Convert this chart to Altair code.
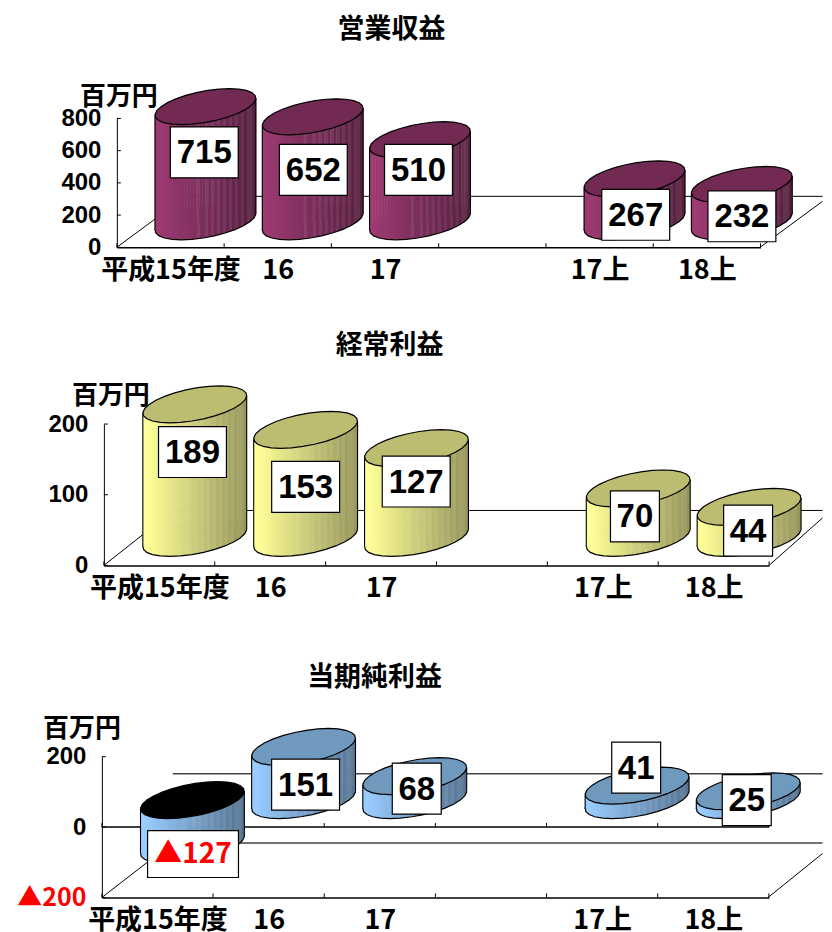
import math
import altair as alt
import pandas as pd

# ---- data -----------------------------------------------------------------
CATS = ["平成15年度", "16", "17", " ", "17上", "18上"]
ROW_CATS = ["平成15年度", "16", "17", "17上", "18上"]
REVENUE = [715, 652, 510, 267, 232]
ORDINARY = [189, 153, 127, 70, 44]
NET = [-127, 151, 68, 41, 25]

# ---- style ----------------------------------------------------------------
JP = "Noto Sans CJK JP"
NUM = "Liberation Sans, Noto Sans CJK JP"
X0 = 101       # page x of the panel origin
PAD_LEFT, PAD_TOP = 8, 7
RIGHT = 822.5  # page x where the floor lines stop, so the page does not shrink the chart
STRIPS = 34
PALE = {14, 17, 19, 21, 23, 25, 27, 29, 31, 32}


def mix(a, b, t):
    ca = [int(a[i:i + 2], 16) for i in (1, 3, 5)]
    cb = [int(b[i:i + 2], 16) for i in (1, 3, 5)]
    return "#" + "".join(f"{round(p + (q - p) * t):02x}" for p, q in zip(ca, cb))


def strip_colors(light, dark):
    out = []
    for k in range(STRIPS):
        c = mix(light, dark, max(0.0, (k - 1) / (STRIPS - 2)))
        out.append(mix(c, "#ffffff", 0.07) if k in PALE else c)
    return out


def stepped_gradient(colors):
    stops = []
    for k, c in enumerate(colors):
        stops += [(k / STRIPS, c), ((k + 1) / STRIPS, c)]
    return alt.LinearGradient(gradient="linear", x1=0, x2=1, y1=0, y2=0,
                              stops=[alt.GradientStop(offset=o, color=c) for o, c in stops])


def ellipse_path(half_w, dep_x, dep_y, n=28):
    a = math.sqrt(half_w ** 2 - dep_x ** 2)
    pts = []
    for i in range(n):
        t = 2 * math.pi * i / n
        pts.append((a * math.cos(t) + dep_x * math.sin(t), -dep_y * math.sin(t)))
    return "M" + "L".join(f"{x:.2f},{y:.2f}" for x, y in pts) + "Z"


def box_path(w, h):
    return f"M{-w / 2},{-h / 2}H{w / 2}V{h / 2}H{-w / 2}Z"


def tlabel(v):
    return f"▲{abs(v)}" if v < 0 else str(v)


def panel(values, title, title_xy, unit_xy, domain, ticks, top_px, height, axis_x, width_band,
          cyl_w, dep, half_dep, light, dark, top, label_shift, lines, zero_px=None,
          ylabel_pad=16, xlabel_pad=10, extra=0):
    df = pd.DataFrame({"cat": ROW_CATS, "v": values})
    df["hi"] = df.v.clip(lower=0)
    df["lo"] = df.v.clip(upper=0)
    a = axis_x - X0
    b = a + width_band * 6
    xs = alt.Scale(domain=CATS, range=[a, b], paddingInner=0, paddingOuter=0, round=False)
    ys = alt.Scale(domain=domain, nice=False, range=[height, 0])
    ax_x = alt.Axis(labelAngle=0, tickSize=0, domainColor="black", domainWidth=1.5, offset=-extra,
                    labelFont=JP, labelFontWeight="bold", labelFontSize=27, title=None,
                    labelColor="black", labelPadding=xlabel_pad, labelOverlap=False,
                    grid=False, labelBaseline="top", tickBand="extent")
    ax_y = alt.Axis(values=ticks, tickSize=0, domainColor="black", domainWidth=1, grid=False,
                    offset=-a, labelFontWeight="bold", title=None,
                    labelFont=alt.expr(f"datum.value < 0 ? '{JP}' : '{NUM}'"),
                    labelFontSize=alt.expr("datum.value < 0 ? 25 : 24"),
                    labelPadding=ylabel_pad, labelOverlap=False,
                    labelColor=alt.expr("datum.value < 0 ? '#ff0000' : '#000000'"),
                    labelExpr="datum.value < 0 ? '▲' + abs(datum.value) : datum.label")
    colors = strip_colors(light, dark)
    grad = stepped_gradient(colors)
    one = alt.Data(values=[{"a": 1}])
    cats = pd.DataFrame({"cat": CATS})
    tick_df = pd.DataFrame({"t": ticks})
    loc = lambda px, py: (px - X0, py - top_px)
    dx, dy = dep
    path = ellipse_path(cyl_w / 2, half_dep[0], half_dep[1])
    X = alt.X("cat:N", scale=xs, sort=None, axis=ax_x)
    shear = half_dep[0] * half_dep[1] / (cyl_w / 2)
    layers = []

    # floor and wall lines
    for (x1, y1, x2, y2, col, sw) in lines:
        p, q = loc(x1, y1), loc(x2, y2)
        layers.append(alt.Chart(one).mark_rule(color=col, strokeWidth=sw).encode(
            x=alt.value(p[0]), y=alt.value(p[1]), x2=alt.value(q[0]), y2=alt.value(q[1])))

    # axes: y ticks point inward, x ticks point up
    layers.append(alt.Chart(tick_df).mark_rule(color="black", strokeWidth=1).encode(
        y=alt.Y("t:Q", scale=ys, axis=ax_y), x=alt.value(a), x2=alt.value(a + 4)))
    levels = [height] + ([zero_px - top_px] if zero_px else [])
    for lv in levels:
        layers.append(alt.Chart(cats).mark_rule(color="black", strokeWidth=1).encode(
            x=alt.X("cat:N", scale=xs, sort=None, bandPosition=0, axis=ax_x),
            y=alt.value(lv - 4), y2=alt.value(lv)))
        layers.append(alt.Chart(cats.tail(1)).mark_rule(color="black", strokeWidth=1).encode(
            x=alt.X("cat:N", scale=xs, sort=None, bandPosition=1, axis=ax_x),
            y=alt.value(lv - 4), y2=alt.value(lv)))

    base = alt.Chart(df)
    # cylinder: lower cap, sheared body in vertical strips, side edges, upper cap
    layers.append(base.mark_point(shape=path, size=4, filled=True, opacity=1, fill=grad,
                                  stroke="black", strokeWidth=1.2, xOffset=dx, yOffset=dy).encode(
        x=X, y=alt.Y("lo:Q", scale=ys, axis=ax_y)))
    sw = cyl_w / STRIPS
    for k, col in enumerate(colors):
        cx = -cyl_w / 2 + (k + 0.5) * sw
        off = dy - shear * cx / (cyl_w / 2)
        layers.append(base.mark_bar(width=sw + 0.5, fill=col, strokeWidth=0, xOffset=dx + cx,
                                    x2Offset=dx + cx, yOffset=off, y2Offset=off).encode(
            x=X, y=alt.Y("hi:Q", scale=ys, axis=ax_y), y2=alt.Y2("lo:Q")))
    for side, sgn in ((-cyl_w / 2, 1), (cyl_w / 2, -1)):
        off = dy + sgn * shear
        layers.append(base.mark_rule(color="black", strokeWidth=1.1, xOffset=dx + side,
                                     yOffset=off, y2Offset=off).encode(
            x=X, y=alt.Y("hi:Q", scale=ys, axis=ax_y), y2=alt.Y2("lo:Q")))
    layers.append(base.mark_point(shape=path, size=4, filled=True, opacity=1, stroke="black",
                                  strokeWidth=1.2, xOffset=dx, yOffset=dy).encode(
        x=X, y=alt.Y("hi:Q", scale=ys, axis=ax_y),
        fill=alt.condition("datum.v < 0", alt.value("#000000"), alt.value(top))))

    # value labels in white boxes
    for i, row in df.iterrows():
        sx, sy = label_shift[i]
        txt = tlabel(int(row.v))
        size = (91, 47) if row.v < 0 else ((68, 51) if len(txt) == 3 else (49, 51))
        one_row = alt.Chart(df.iloc[[i]])
        enc = dict(x=X, y=alt.Y("hi:Q", scale=ys, axis=ax_y))
        layers.append(one_row.mark_point(shape=box_path(*size), size=4, filled=True, opacity=1,
                                         fill="white", stroke="black", strokeWidth=1.2,
                                         xOffset=sx, yOffset=sy).encode(**enc))
        layers.append(one_row.mark_text(font=NUM if row.v >= 0 else JP, fontWeight="bold",
                                        fontSize=33 if row.v >= 0 else 28,
                                        color="#ff0000" if row.v < 0 else "#000000",
                                        xOffset=sx, yOffset=sy + 1, baseline="middle",
                                        align="center").encode(text=alt.value(txt), **enc))

    # titles
    tx, ty = loc(*title_xy)
    layers.append(alt.Chart(one).mark_text(font=JP, fontWeight="bold", fontSize=27, align="center",
                                           baseline="middle", color="black").encode(
        x=alt.value(tx), y=alt.value(ty), text=alt.value(title)))
    ux, uy = loc(*unit_xy)
    layers.append(alt.Chart(one).mark_text(font=JP, fontWeight="bold", fontSize=26, align="center",
                                           baseline="middle", color="black").encode(
        x=alt.value(ux), y=alt.value(uy), text=alt.value("百万円")))

    return alt.layer(*layers).properties(width=668, height=height + extra)


p1 = panel(REVENUE, "営業収益", (391, 28), (118, 96), [0, 800], [0, 200, 400, 600, 800],
           117, 129, 116, 107.4, 101, (35, -25.5), (24, 18),
           "#9c3a72", "#55203f", "#722a52",
           [(33.8, 20.3), (35.6, 27.6), (33.5, 4.7), (36.2, 10.5), (35.1, 6.4)],
           [(116, 246, 185, 195, "black", 1), (185, 195, RIGHT, 195, "black", 1),
            (760, 246, RIGHT, 200, "black", 1)])

p2 = panel(ORDINARY, "経常利益", (389, 345), (110, 395), [0, 200], [0, 100, 200],
           423, 141.5, 103, 111, 104, (35.5, -27.5), (25, 18.5),
           "#ffff99", "#95955a", "#bdbd72",
           [(33.2, 20.2), (35.5, 29.7), (35.2, 5.9), (32.2, 0.5), (34.5, -3.7)],
           [(103, 564.5, 172, 510, "black", 1), (172, 509.5, RIGHT, 509.5, "black", 1),
            (769, 564.5, RIGHT, 517, "black", 1)], extra=14.5)

p3 = panel(NET, "当期純利益", (374, 677), (81, 728), [-200, 200], [-200, 0, 200],
           756, 141, 101, 111.3, 104, (35, -27), (25, 18.5),
           "#99ccff", "#557391", "#7099be",
           [(35.6, 27), (37, 10.7), (37, -14.5), (34.1, -45), (33.5, -18.2)],
           [(101, 897, 172, 842, "black", 1), (172, 773, RIGHT, 773, "#444444", 1.5),
            (172, 842.5, RIGHT, 842.5, "#444444", 1.5), (768, 897, RIGHT, 853, "black", 1),
            (101, 826.5, 769, 826.5, "black", 1.6)], zero_px=826.5)

chart = alt.vconcat(p1, p2, p3, spacing=177, bounds="flush").properties(
    padding={"left": PAD_LEFT, "top": PAD_TOP, "right": 0, "bottom": 3}
).configure_view(stroke=None).configure_axis(domainColor="black")

chart.save("out.html", embed_options={"renderer": "svg", "actions": False})
